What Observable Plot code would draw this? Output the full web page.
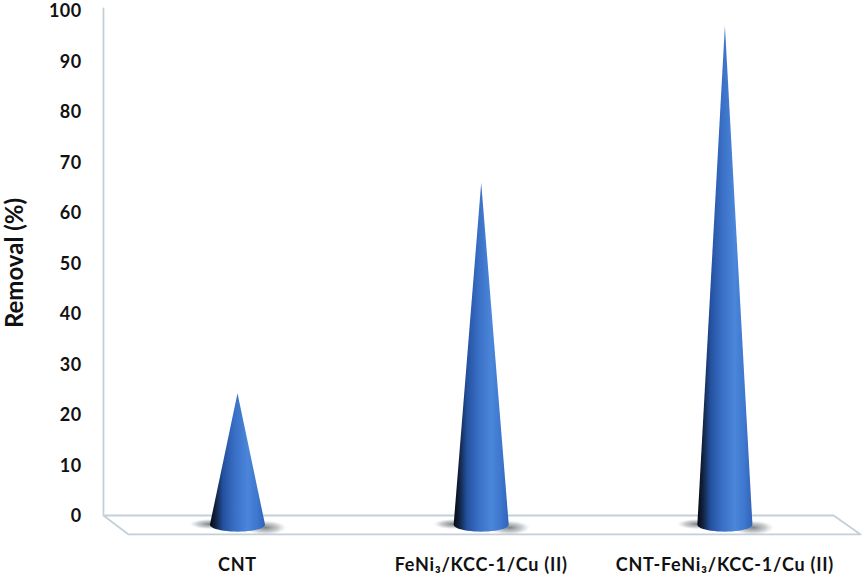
<!DOCTYPE html>
<html><head><meta charset="utf-8">
<script src="https://cdn.jsdelivr.net/npm/d3@7"></script>
<script src="https://cdn.jsdelivr.net/npm/@observablehq/plot@0.6"></script>
<style>html,body{margin:0;padding:0;background:#fff}svg{display:block}</style>
</head><body><div id="chart"></div>
<script>
const categories = ["CNT", "FeNi₃/KCC-1/Cu (II)", "CNT-FeNi₃/KCC-1/Cu (II)"];
const removal = [24.2, 65.9, 97];
const yTicks = [0,10,20,30,40,50,60,70,80,90,100];

// cone shape, in data units
const halfBase = 0.113, baseY = -1.8, baseRy = 1.4;
const arc = d3.range(0, 25).map(i => (i / 24) * Math.PI);
const cones = categories.flatMap((c, i) => [
  {c, x: i, y: removal[i]},
  ...arc.map(t => ({c, x: i - halfBase * Math.cos(t), y: baseY - baseRy * Math.sin(t)}))
]);
const ell = (c, cx, cy, rx, ry) => d3.range(0, 37).map(k => {
  const t = k / 36 * 2 * Math.PI;
  return {c, x: cx + rx * Math.cos(t), y: cy + ry * Math.sin(t)};
});
const shadows = categories.flatMap((c, i) => [
  ...ell(c + "L", i - 0.115, -1.7, 0.08, 1.0),
  ...ell(c + "R", i + 0.115, -2.4, 0.085, 1.4)
]);
const wall = [{x: -0.55, y: 100.4}, {x: -0.55, y: 0}, {x: 2.446, y: 0}, {x: 2.557, y: -3.75}, {x: -0.447, y: -3.75}, {x: -0.55, y: 0}];

const defs = () => {
  const d = d3.create("svg:defs");
  const g = d.append("linearGradient").attr("id", "cone");
  [[0, "#06090f"], [0.1, "#12213f"], [0.24, "#24519f"], [0.45, "#3a6fc6"], [0.68, "#4a86da"], [0.85, "#3f78cf"], [1, "#3063b8"]]
    .forEach(([o, c]) => g.append("stop").attr("offset", o).attr("stop-color", c));
  const r = d.append("radialGradient").attr("id", "shade");
  [[0, "#5b6268", 0.8], [0.6, "#7d858b", 0.42], [1, "#9aa2a8", 0]]
    .forEach(([o, c, a]) => r.append("stop").attr("offset", o).attr("stop-color", c).attr("stop-opacity", a));
  return d.node();
};

const font = "Lato, Carlito, sans-serif";
const chart = Plot.plot({
  width: 865, height: 580,
  marginLeft: 103, marginBottom: 65, marginTop: 10, marginRight: 0,
  style: {fontFamily: font, background: "#fff", color: "#111"},
  x: {type: "linear", domain: [0, 2], range: [237, 724.4]},
  y: {domain: [0, 100], range: [515, 10]},
  marks: [
    defs,
    Plot.line(wall, {x: "x", y: "y", stroke: "#c3d0d9", strokeWidth: 1.8}),
    Plot.line(shadows, {x: "x", y: "y", z: "c", fill: "url(#shade)", stroke: "none"}),
    Plot.line(cones, {x: "x", y: "y", z: "c", fill: "url(#cone)", stroke: "none"}),
    Plot.axisY({
      ticks: yTicks, tickSize: 0, tickPadding: 22, fontSize: 18, fontWeight: 700, dy: 1,
      label: "Removal (%)", labelAnchor: "center", labelArrow: "none", labelOffset: 98
    }),
    Plot.axisX({
      ticks: [0, 1, 2], tickFormat: i => categories[i], tickSize: 0, tickPadding: 43,
      fontSize: 18, fontWeight: 700, label: null
    })
  ]
});
const s = d3.select(chart);
s.selectAll("g[aria-label='y-axis label'] text").attr("font-size", 24).attr("font-weight", 700);
s.selectAll("g[aria-label='x-axis tick label'] text").attr("letter-spacing", 0.75);
s.selectAll("g[aria-label='y-axis tick label'] text").attr("letter-spacing", 0.4);
s.selectAll("g[aria-label='line']").filter((d, i) => i > 0).style("filter", "blur(0.5px)");
document.getElementById("chart").append(chart);
</script></body></html>
